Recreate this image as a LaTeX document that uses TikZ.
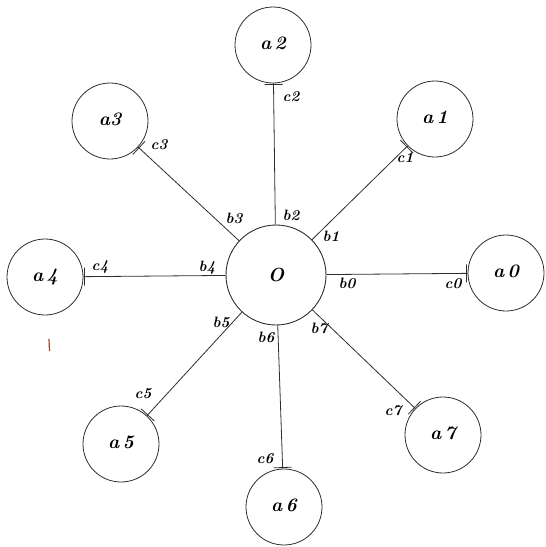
\documentclass[tikz,border=0pt]{standalone}
\usetikzlibrary{calc}
\definecolor{ink}{RGB}{45,45,45}
\definecolor{stain}{RGB}{150,70,40}
\newcommand{\uplab}[1]{\raisebox{4pt}{#1}}
\begin{document}
\begin{tikzpicture}[x=1pt,y=-1pt,
  hub/.style={circle,draw=ink,line width=0.9pt,minimum size=100pt,inner sep=0pt,font=\bfseries\itshape\fontsize{19}{19}\selectfont},
  sat/.style={circle,draw=ink,line width=0.8pt,minimum size=76pt,inner sep=0pt,font=\bfseries\itshape\fontsize{19}{19}\selectfont},
  lab/.style={inner sep=0pt,font=\bfseries\itshape\fontsize{15}{15}\selectfont},
  conn/.style={draw=ink,line width=0.8pt}]
\useasboundingbox (0,0) rectangle (546,547);
\node[hub] (O) at (276,275) {\raisebox{-5pt}{O}};
\node[sat] (a0) at (506,273) {\uplab{a\,0}};
\node[sat] (a1) at (435,119) {\uplab{a\,1}};
\node[sat] (a2) at (273,45) {\uplab{a\,2}};
\node[sat] (a3) at (110,121) {\uplab{a3}};
\node[sat] (a4) at (45,277) {\uplab{a\,4}};
\node[sat] (a5) at (121,444) {\uplab{a\,5}};
\node[sat] (a6) at (284,507) {\uplab{a\,6}};
\node[sat] (a7) at (443,435) {\uplab{a\,7}};
\foreach \i in {0,...,7}{
  \draw[conn] (O) -- (a\i);
  \coordinate (t\i) at ($(a\i)!39.5pt!(O)$);
  \draw[conn] ($(t\i)!9pt!90:(a\i)$) -- ($(t\i)!9pt!-90:(a\i)$);
}
\node[lab] (b0) at (347,283) {b0};
\node[lab] (b1) at (331,236) {b1};
\node[lab] (b2) at (291,215) {b2};
\node[lab] (b3) at (234,218) {b3};
\node[lab] (b4) at (207,268) {b4};
\node[lab] (b5) at (221,322) {b5};
\node[lab] (b6) at (266,337) {b6};
\node[lab] (b7) at (319,328) {b7};
\node[lab] (c0) at (453,284) {c0};
\node[lab] (c1) at (405,158) {c1};
\node[lab] (c2) at (291,97) {c2};
\node[lab] (c3) at (159,145) {c3};
\node[lab] (c4) at (100,267) {c4};
\node[lab] (c5) at (143,394) {c5};
\node[lab] (c6) at (265,459) {c6};
\node[lab] (c7) at (393,411) {c7};
\draw[stain,line width=1.2pt] (49,339) -- (49.5,351);
\end{tikzpicture}
\end{document}
